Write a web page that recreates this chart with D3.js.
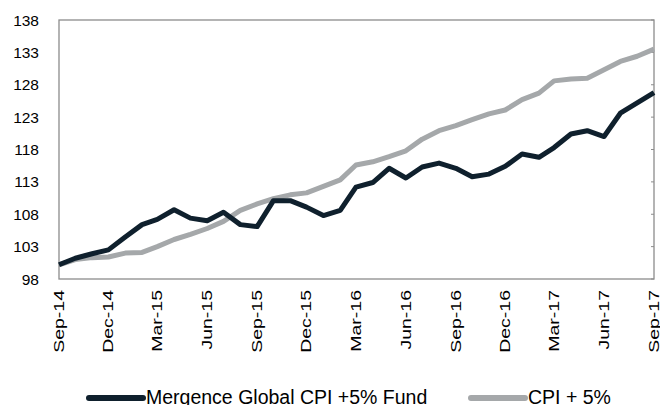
<!DOCTYPE html>
<meta charset="utf-8">
<script src="https://d3js.org/d3.v7.min.js"></script>
<style>
body { margin: 0; background: #fff; }
svg { display: block; font-family: Arial, "Liberation Sans", sans-serif; }
.ylab { font-size: 15.5px; fill: #000; }
.xlab { font-size: 15px; fill: #000; }
.legend-text { font-size: 19.5px; fill: #000; }
</style>
<body>
<div class="chart"></div>
<script>

// Monthly index values, Sep-14 .. Sep-17
var fund = [100.2, 101.2, 101.9, 102.5, 104.5, 106.4, 107.2, 108.7, 107.4, 107.0,
            108.3, 106.4, 106.1, 110.1, 110.1, 109.1, 107.8, 108.6, 112.2, 112.9,
            115.1, 113.6, 115.3, 115.9, 115.1, 113.8, 114.2, 115.4, 117.3, 116.8,
            118.3, 120.4, 120.9, 120.0, 123.6, 125.2, 126.8];
var cpi  = [100.2, 101.0, 101.3, 101.4, 102.0, 102.1, 103.0, 104.1, 104.9, 105.8,
            106.9, 108.6, 109.6, 110.4, 111.0, 111.3, 112.3, 113.3, 115.6, 116.1,
            116.9, 117.8, 119.6, 120.9, 121.7, 122.6, 123.5, 124.1, 125.7, 126.7,
            128.6, 128.9, 129.0, 130.3, 131.6, 132.4, 133.5];
var yTicks = [98, 103, 108, 113, 118, 123, 128, 133, 138];
var seriesNames = ["Mergence Global CPI +5% Fund", "CPI + 5%"];
var seriesColors = ["#0f202d", "#a5a8aa"];

var margin = {top: 20, right: 6, bottom: 126, left: 59},
    W = 660, H = 405,
    width = W - margin.left - margin.right,
    height = H - margin.top - margin.bottom;

var months = d3.timeMonth.range(new Date(2014, 8, 1), new Date(2017, 9, 1));

var svg = d3.select(".chart").append("svg")
    .attr("width", W)
    .attr("height", H);

var g = svg.append("g")
    .attr("transform", "translate(" + margin.left + "," + margin.top + ")");

var x = d3.scaleTime()
    .domain([months[0], months[months.length - 1]])
    .range([0, width]);

var y = d3.scaleLinear()
    .domain([98, 138])
    .range([height, 0]);

// plot frame
g.append("rect")
    .attr("x", 0).attr("y", 0)
    .attr("width", width).attr("height", height)
    .attr("fill", "none")
    .attr("stroke", "#8c8c8c")
    .attr("stroke-width", 1.3);

// small ticks on right edge
g.selectAll(".rtick")
    .data(yTicks)
    .enter().append("line")
    .attr("x1", width - 3).attr("x2", width)
    .attr("y1", function(d) { return y(d); })
    .attr("y2", function(d) { return y(d); })
    .attr("stroke", "#8c8c8c");

// y labels
g.selectAll(".ylab")
    .data(yTicks)
    .enter().append("text")
    .attr("class", "ylab")
    .attr("x", -20)
    .attr("y", function(d) { return y(d); })
    .attr("dy", "0.36em")
    .attr("text-anchor", "end")
    .text(function(d) { return d; });

// x labels (quarterly), stretched along the text like the original
var fmt = d3.timeFormat("%b-%y");
var xTicks = months.filter(function(d, i) { return i % 3 === 0; });
g.selectAll(".xlab")
    .data(xTicks)
    .enter().append("text")
    .attr("class", "xlab")
    .attr("transform", function(d) {
      return "translate(" + x(d) + "," + (height + 11) + ") rotate(-90) scale(1.3,1)";
    })
    .attr("dy", "0.32em")
    .attr("text-anchor", "end")
    .text(fmt);

var line = d3.line()
    .x(function(d, i) { return x(months[i]); })
    .y(function(d) { return y(d); });

// grey first, dark on top
[cpi, fund].forEach(function(s, k) {
  g.append("path")
      .datum(s)
      .attr("fill", "none")
      .attr("stroke", seriesColors[1 - k])
      .attr("stroke-width", 5)
      .attr("stroke-linejoin", "round")
      .attr("d", line);
});

// legend
var legendX = [89, 471];
var legend = svg.selectAll(".legend")
    .data(seriesNames)
    .enter().append("g")
    .attr("class", "legend")
    .attr("transform", function(d, i) { return "translate(" + legendX[i] + ",398)"; });

legend.append("line")
    .attr("x1", 0).attr("x2", 54)
    .attr("y1", 0).attr("y2", 0)
    .attr("stroke", function(d, i) { return seriesColors[i]; })
    .attr("stroke-width", 6)
    .attr("stroke-linecap", "round");

legend.append("text")
    .attr("class", "legend-text")
    .attr("x", 57)
    .attr("y", 6)
    .text(function(d) { return d; });

</script>
</body>
